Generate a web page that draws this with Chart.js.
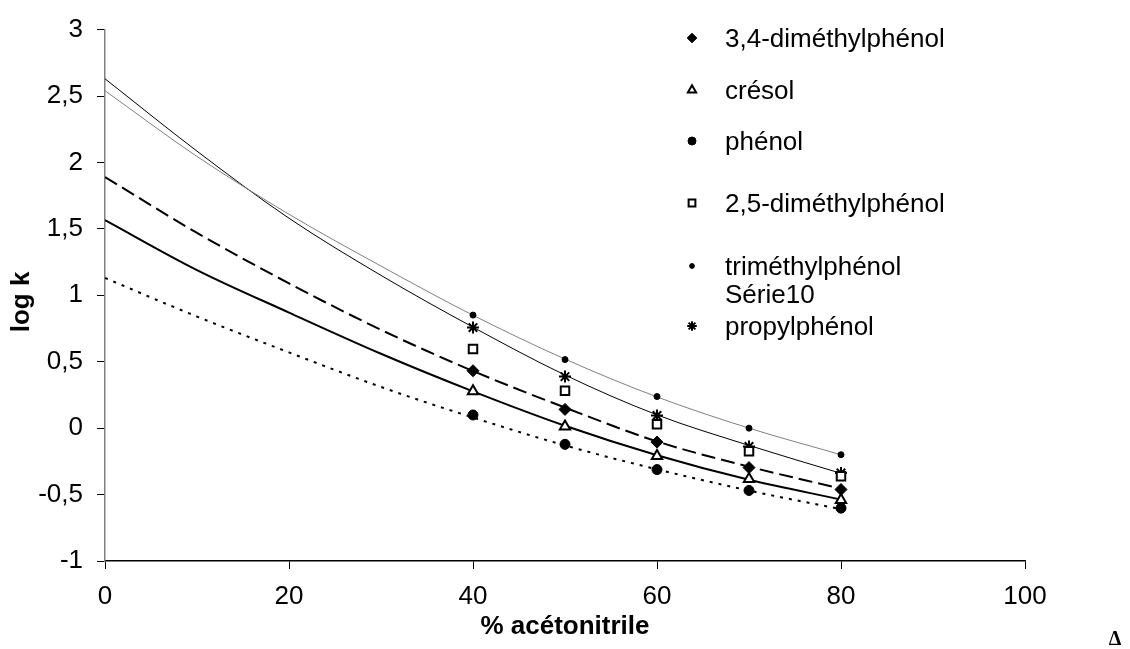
<!DOCTYPE html>
<html>
<head>
<meta charset="utf-8">
<script src="https://cdn.jsdelivr.net/npm/chart.js@4.4.1/dist/chart.umd.min.js"></script>
<style>
  html, body { margin: 0; padding: 0; background: #fff; }
  #chart { display: block; }
</style>
</head>
<body>
<canvas id="chart" width="1130" height="649"></canvas>
<script>
const FONT = 'Arial, "Liberation Sans", sans-serif';

// measured log k values
const pctMeasured = [40, 50, 60, 70, 80];
const dimethyl34 = [0.432, 0.141, -0.105, -0.297, -0.462];
const cresol = [0.277, 0.013, -0.209, -0.383, -0.540];
const phenol = [0.099, -0.122, -0.312, -0.469, -0.602];
const dimethyl25 = [0.595, 0.282, 0.030, -0.174, -0.362];
const trimethyl = [0.851, 0.516, 0.238, 0.0, -0.200];
const propyl = [0.757, 0.388, 0.095, -0.138, -0.337];

// fitted curves
const pctFit = [0, 10, 20, 30, 40, 50, 60, 70, 80];
const trimethylFit = [2.54, 2.045, 1.61, 1.22, 0.85, 0.52, 0.235, 0.0, -0.20];
const propylFit = [2.63, 2.085, 1.58, 1.15, 0.76, 0.40, 0.10, -0.13, -0.34];
const dimethyl34Fit = [1.89, 1.47, 1.09, 0.74, 0.43, 0.155, -0.10, -0.29, -0.455];
const cresolFit = [1.566, 1.19, 0.87, 0.56, 0.277, 0.018, -0.204, -0.389, -0.537];
const phenolFit = [1.13, 0.84, 0.57, 0.31, 0.08, -0.13, -0.31, -0.47, -0.61];

const xTicks = [0, 20, 40, 60, 80, 100];
const yTicks = [-1, -0.5, 0, 0.5, 1, 1.5, 2, 2.5, 3];
const seriesNames = ['3,4-diméthylphénol', 'crésol', 'phénol', '2,5-diméthylphénol', 'triméthylphénol', 'Série10', 'propylphénol'];

const toPts = (xs, ys) => xs.map((x, i) => ({ x, y: ys[i] }));

function markerSet(name, ys, style, radius, fill, bw) {
    return {
        label: name,
        data: ys ? toPts(pctMeasured, ys) : [],
        showLine: false,
        pointStyle: style,
        pointRadius: radius,
        pointHoverRadius: radius,
        pointBackgroundColor: fill,
        pointBorderColor: '#000',
        pointBorderWidth: bw,
        order: 0
    };
}

function fitSet(ys, color, width, dash) {
    return {
        data: toPts(pctFit, ys),
        showLine: true,
        pointRadius: 0,
        borderColor: color,
        borderWidth: width,
        borderDash: dash,
        cubicInterpolationMode: 'monotone',
        order: 1
    };
}

const datasets = [
    markerSet(seriesNames[0], dimethyl34, 'rectRot', 6, '#000', 1),
    markerSet(seriesNames[1], cresol, 'triangle', 6, '#fff', 2),
    markerSet(seriesNames[2], phenol, 'circle', 5, '#000', 1),
    markerSet(seriesNames[3], dimethyl25, 'rect', 6, '#fff', 2),
    markerSet(seriesNames[4], trimethyl, 'circle', 3, '#000', 1),
    markerSet(seriesNames[5], null, false, 0, '#000', 0),
    markerSet(seriesNames[6], propyl, 'star', 6, '#000', 2),
    fitSet(trimethylFit, '#808080', 1, []),
    fitSet(propylFit, '#000', 1, []),
    fitSet(dimethyl34Fit, '#000', 2, [14, 6]),
    fitSet(cresolFit, '#000', 2, []),
    fitSet(phenolFit, '#000', 2, [3, 6])
];

// legend rows, titles and the stray glyph
const extras = {
    id: 'extras',
    afterDraw(chart) {
        const ctx = chart.ctx;
        const rows = [40, 92, 143, 205, 268, 296, 328];
        ctx.save();
        ctx.textBaseline = 'middle';
        ctx.textAlign = 'left';
        ctx.font = '26px ' + FONT;
        seriesNames.forEach((name, i) => {
            const ds = chart.data.datasets[i];
            if (ds.pointStyle) {
                ctx.fillStyle = ds.pointBackgroundColor;
                ctx.strokeStyle = '#000';
                ctx.lineWidth = ds.pointBorderWidth;
                Chart.helpers.drawPoint(ctx, {
                    pointStyle: ds.pointStyle,
                    radius: ds.pointRadius * 0.8,
                    rotation: 0,
                    borderWidth: ds.pointBorderWidth
                }, 692, rows[i] - 2);
            }
            ctx.fillStyle = '#000';
            ctx.fillText(name, 725, rows[i]);
        });

        ctx.font = 'bold 26px ' + FONT;
        ctx.textAlign = 'center';
        ctx.fillText('% acétonitrile', 565, 627);

        ctx.translate(22, 302);
        ctx.rotate(-Math.PI / 2);
        ctx.fillText('log k', 0, 0);
        ctx.restore();

        ctx.save();
        ctx.font = 'bold 20px "Liberation Serif", serif';
        ctx.textAlign = 'center';
        ctx.textBaseline = 'middle';
        ctx.fillStyle = '#000';
        ctx.fillText('Δ', 1115, 640);
        ctx.restore();
    }
};

new Chart(document.getElementById('chart'), {
    type: 'scatter',
    data: { datasets },
    options: {
        responsive: false,
        animation: false,
        events: [],
        layout: { padding: { top: 20, right: 105, left: 0, bottom: 0 } },
        plugins: { legend: { display: false }, tooltip: { enabled: false } },
        scales: {
            x: {
                type: 'linear',
                min: 0,
                max: 100,
                afterBuildTicks: (s) => { s.ticks = xTicks.map(v => ({ value: v })); },
                afterFit: (s) => { s.height = 88; },
                ticks: { color: '#000', font: { family: FONT, size: 26 }, padding: 12, maxRotation: 0, autoSkip: false },
                grid: { drawOnChartArea: false, color: '#000', tickLength: 8 },
                border: { color: '#000', width: 1.5 }
            },
            y: {
                type: 'linear',
                min: -1,
                max: 3,
                afterBuildTicks: (s) => { s.ticks = yTicks.map(v => ({ value: v })); },
                afterFit: (s) => { s.width = 105; },
                ticks: {
                    color: '#000',
                    font: { family: FONT, size: 26 },
                    padding: 14,
                    autoSkip: false,
                    callback: (v) => String(v).replace('.', ',')
                },
                grid: { drawOnChartArea: false, color: '#000', tickLength: 8 },
                border: { color: '#808080', width: 1.5 }
            }
        }
    },
    plugins: [extras]
});
</script>
</body>
</html>
